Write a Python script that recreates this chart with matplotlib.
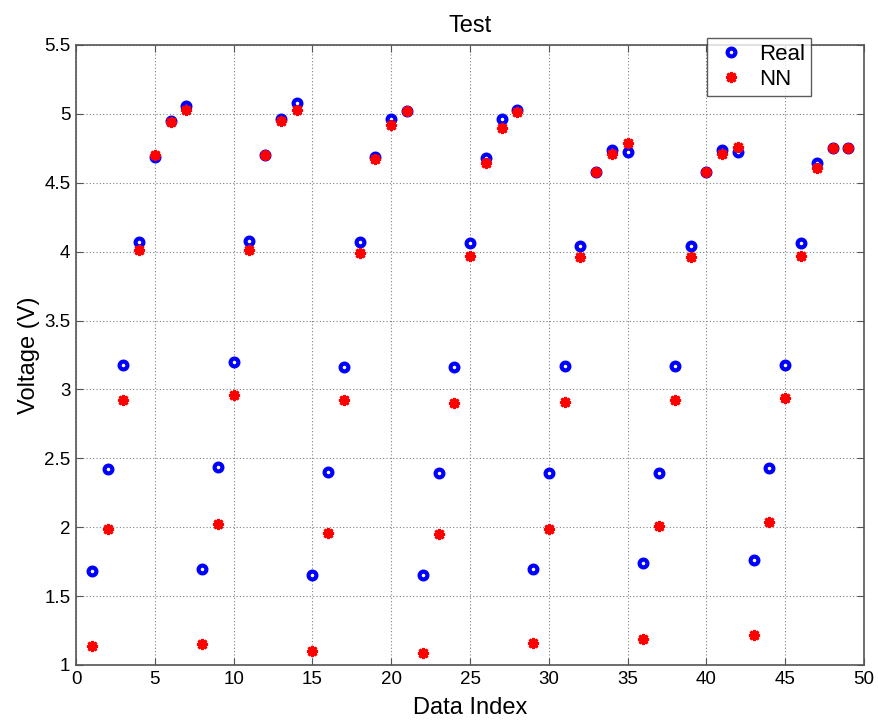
import matplotlib.pyplot as plt
import numpy as np

plt.rcParams["font.family"] = ["Liberation Sans", "DejaVu Sans"]

# measured vs. network-predicted voltage for each test sample
data_index = np.arange(1, 50)
real_v = [
    1.68, 2.42, 3.18, 4.07, 4.69, 4.95, 5.06,
    1.70, 2.44, 3.20, 4.08, 4.70, 4.96, 5.08,
    1.65, 2.40, 3.16, 4.07, 4.69, 4.96, 5.02,
    1.65, 2.39, 3.16, 4.06, 4.68, 4.96, 5.03,
    1.70, 2.39, 3.17, 4.04, 4.58, 4.74, 4.72,
    1.74, 2.39, 3.17, 4.04, 4.58, 4.74, 4.72,
    1.76, 2.43, 3.18, 4.06, 4.64, 4.75, 4.75,
]
nn_v = [
    1.14, 1.99, 2.92, 4.01, 4.70, 4.94, 5.03,
    1.15, 2.02, 2.96, 4.01, 4.70, 4.95, 5.03,
    1.10, 1.96, 2.92, 3.99, 4.67, 4.92, 5.02,
    1.09, 1.95, 2.90, 3.97, 4.64, 4.90, 5.01,
    1.16, 1.99, 2.91, 3.96, 4.58, 4.71, 4.79,
    1.19, 2.01, 2.92, 3.96, 4.58, 4.71, 4.76,
    1.22, 2.04, 2.94, 3.97, 4.61, 4.75, 4.75,
]

fig = plt.figure(figsize=(8.79, 7.21), dpi=100)
ax = fig.add_axes([0.0865, 0.0777, 0.8965, 0.860])

ax.plot(data_index, real_v, linestyle="none", marker="o", ms=5.6,
        mfc="white", mec="#0000ff", mew=3.0, label="Real", zorder=3)
ax.plot(data_index, nn_v, linestyle="none", marker=(8, 2, 0), ms=8,
        mec="#ff0000", mfc="#ff0000", mew=2.0, label="NN", zorder=4)

ax.set_xlim(0, 50)
ax.set_ylim(1, 5.5)
ax.set_xticks(np.arange(0, 51, 5))
ax.set_yticks(np.arange(1, 5.51, 0.5))
ax.set_yticklabels(["1", "1.5", "2", "2.5", "3", "3.5", "4", "4.5", "5", "5.5"])

ax.grid(True, linestyle=(0, (1, 2)), color="#808080", linewidth=0.8)
ax.tick_params(direction="in", top=True, right=True, length=5,
               labelsize=13.5, color="#555555", pad=4)
for s in ax.spines.values():
    s.set_color("#555555")
    s.set_linewidth(1.2)

ax.set_title("Test", fontsize=17, pad=9)
ax.set_xlabel("Data Index", fontsize=17, labelpad=7)
ax.set_ylabel("Voltage (V)", fontsize=17, labelpad=3)

leg = ax.legend(loc="upper left", bbox_to_anchor=(0.801, 1.011),
                fontsize=16, frameon=True, fancybox=False, borderpad=0.25,
                handletextpad=0.5, labelspacing=0.2, handlelength=1.6,
                borderaxespad=0)
leg.get_frame().set_edgecolor("#333333")
leg.get_frame().set_linewidth(1.0)
leg.set_zorder(10)

fig.savefig("out.png", dpi=100)
